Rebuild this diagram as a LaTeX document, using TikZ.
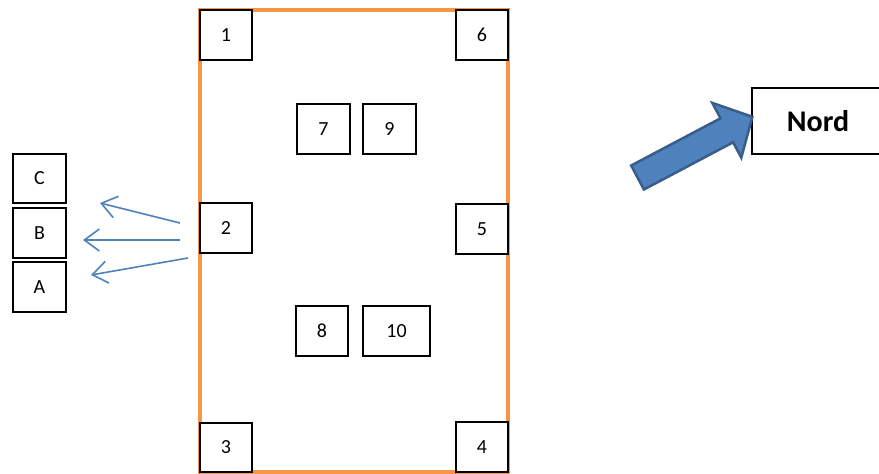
\documentclass[tikz,border=0pt]{standalone}
\usepackage{fontspec}
\setmainfont{Carlito}
\usetikzlibrary{arrows.meta}
\definecolor{orng}{HTML}{F79646}
\definecolor{blu}{HTML}{4F81BD}
\definecolor{bludark}{HTML}{385D8A}
\tikzset{
  box/.style={draw=black, line width=2pt, fill=white, inner sep=0pt,
    minimum width=52pt, minimum height=50pt, font=\fontsize{20}{20}\selectfont},
  thinarrow/.style={draw=blu, line width=1.6pt, -{Straight Barb[length=15pt,width=22pt,line width=1.6pt]}},
}
\begin{document}
\begin{tikzpicture}[x=1pt,y=-1pt]
\useasboundingbox (0,0) rectangle (879,474);
% frame
\draw[orng, line width=3.5pt] (200,10) rectangle (508,472);
% boxes
\node[box] (n1) at (226,35) {1};
\node[box] (n6) at (482,35) {6};
\node[box] (n2) at (226,228) {2};
\node[box] (n5) at (482,229) {5};
\node[box, minimum height=49pt] (n3) at (226,447.5) {3};
\node[box] (n4) at (482,447) {4};
\node[box, minimum width=53pt] (n7) at (323.5,129) {7};
\node[box, minimum width=53pt] (n9) at (389.5,129) {9};
\node[box] (n8) at (322,331) {8};
\node[box, minimum width=67pt] (n10) at (396.5,331) {10};
\node[box, minimum width=53pt, minimum height=49pt] (nC) at (39.5,178.5) {C};
\node[box, minimum width=53pt] (nB) at (39.5,233) {B};
\node[box, minimum width=53pt] (nA) at (39.5,287) {A};
\node[box, minimum width=132pt, minimum height=66pt, font=\fontsize{30}{30}\selectfont\bfseries] (nord) at (818,121) {Nord};
% thin arrows
\coordinate (s1) at (180,223);
\coordinate (e1) at (100,203);
\coordinate (s2) at (180,240);
\coordinate (e2) at (83,240);
\coordinate (s3) at (188,258);
\coordinate (e3) at (91,275);
\draw[thinarrow] (s1) -- (e1);
\draw[thinarrow] (s2) -- (e2);
\draw[thinarrow] (s3) -- (e3);
% block arrow
\filldraw[fill=blu, draw=bludark, line width=2.5pt, line join=miter]
  (643.9,189.5) -- (733.1,142.3) -- (741.3,157.7) -- (752.4,116.8)
  -- (712.3,102.9) -- (720.5,118.3) -- (631.2,165.5) -- cycle;
\end{tikzpicture}
\end{document}
